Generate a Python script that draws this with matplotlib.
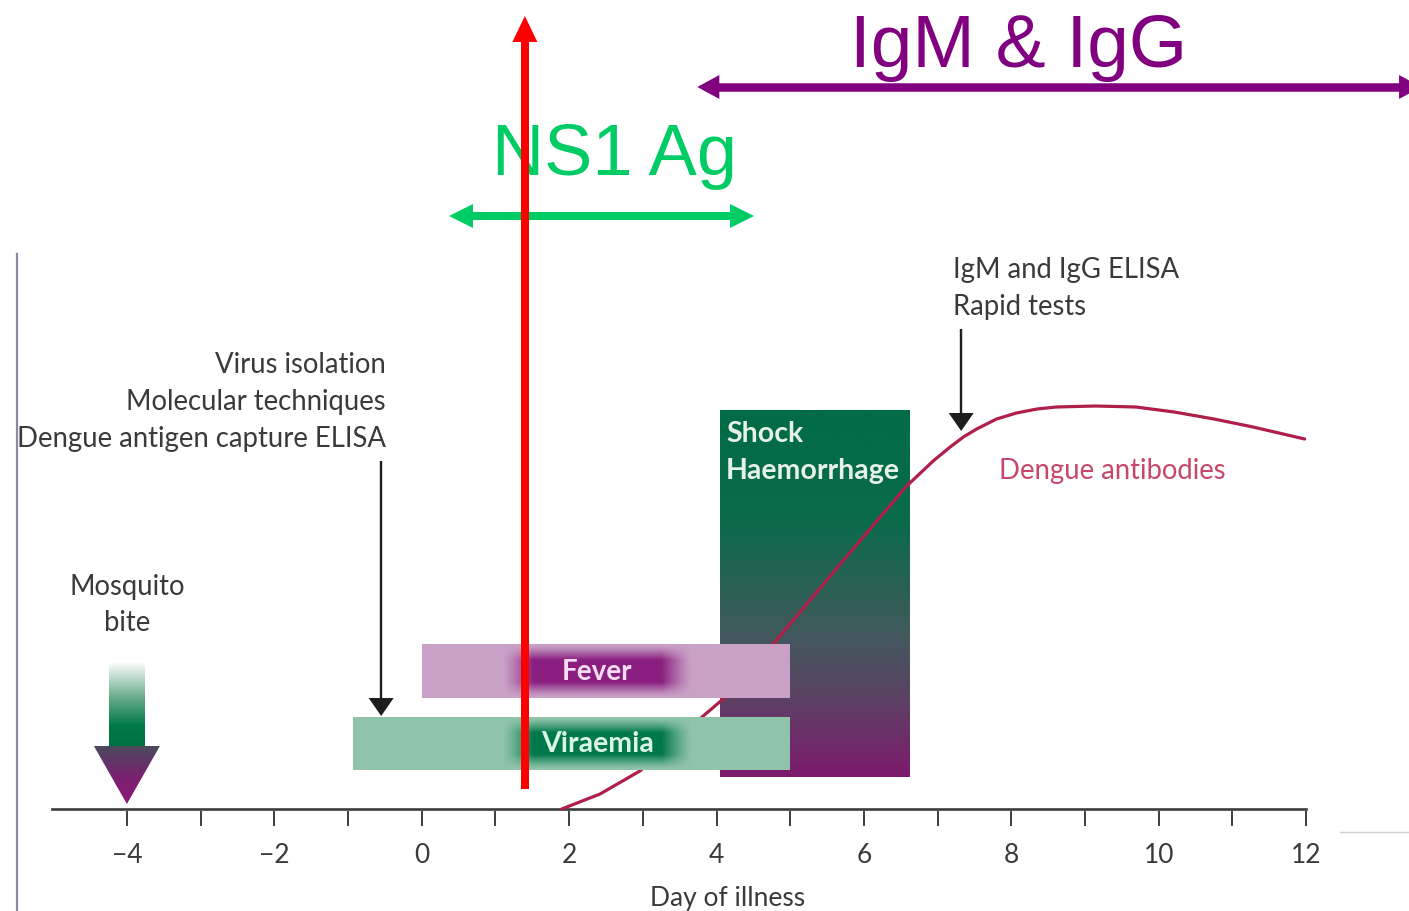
import numpy as np
import matplotlib
matplotlib.use("Agg")
import matplotlib.pyplot as plt
from matplotlib.colors import LinearSegmentedColormap, to_rgb
from matplotlib.patches import Polygon, Rectangle

# ---------------- data ----------------
tick_days = list(range(-4, 13))
label_days = [-4, -2, 0, 2, 4, 6, 8, 10, 12]
label_texts = ["\u22124", "\u22122", "0", "2", "4", "6", "8", "10", "12"]

antibody_day = [1.90, 2.42, 2.96, 3.82, 4.09, 4.77, 5.68, 6.58, 6.94, 7.17, 7.35,
                7.53, 7.80, 8.07, 8.35, 8.61, 9.14, 9.69, 10.21, 10.75, 11.28, 11.98]
antibody_level = [0, 15, 38, 93, 110, 165, 245, 323, 348, 362, 372,
                  380, 390, 396, 400, 402, 403, 402, 397, 390, 382, 370]

fever_span = (0.0, 5.0)
viraemia_span = (-0.93, 5.0)
fever_core = (1.10, 3.66)
viraemia_core = (1.10, 3.66)
shock_span = (4.05, 6.62)
mosquito_day = -4.0
virus_test_day = -0.55
antibody_test_day = 7.32
ns1_marker_day = 1.40
ns1_window = (0.37, 4.51)
igm_igg_window = (3.74, 13.56)

# ---------------- layout helpers ----------------
W, H = 1409, 912
PX_PER_DAY = 73.7
DAY0_PX = 421.7
AXIS_PY = 810


def lv(py):
    """pixel row -> vertical level (pixels above the day axis)"""
    return AXIS_PY - py


def dx(px):
    """pixel width -> days"""
    return px / PX_PER_DAY


fig = plt.figure(figsize=(W / 100, H / 100), dpi=100)
ax = fig.add_axes([0, 0, 1, 1])
ax.set_xlim(-DAY0_PX / PX_PER_DAY, (W - DAY0_PX) / PX_PER_DAY)
ax.set_ylim(lv(H), lv(0))
ax.axis("off")

FONT = ["Lato", "DejaVu Sans"]
BIG = ["Liberation Sans", "DejaVu Sans"]
TXT = "#3a3a3a"
FS = 19.8


def v_arrow(x, y0, y1, lw_px, hw_px, hl_px, color, z):
    s = np.sign(y1 - y0)
    ax.plot([x, x], [y0, y1 - s * hl_px * 0.8], color=color, lw=lw_px * 0.72,
            solid_capstyle="butt", zorder=z)
    ax.add_patch(Polygon([(x - dx(hw_px / 2), y1 - s * hl_px),
                          (x + dx(hw_px / 2), y1 - s * hl_px),
                          (x, y1)], closed=True, color=color, lw=0, zorder=z))


def h_double_arrow(y, x0, x1, lw_px, hw_px, hl_px, color, z):
    ax.plot([x0 + dx(hl_px * 0.8), x1 - dx(hl_px * 0.8)], [y, y], color=color,
            lw=lw_px * 0.72, solid_capstyle="butt", zorder=z)
    for tip, s in ((x0, 1), (x1, -1)):
        ax.add_patch(Polygon([(tip + s * dx(hl_px), y - hw_px / 2),
                              (tip + s * dx(hl_px), y + hw_px / 2),
                              (tip, y)], closed=True, color=color, lw=0, zorder=z))


# ---------------- frame lines ----------------
ax.plot([dx(17 - DAY0_PX)] * 2, [lv(255), lv(H)], color="#8a8aa6", lw=1.6, zorder=1)
ax.plot([dx(52 - DAY0_PX), tick_days[-1]], [0, 0], color="#3c3c3c", lw=1.9, zorder=1)
for d in tick_days:
    ax.plot([d, d], [-3, -16], color="#3c3c3c", lw=1.4, zorder=1)
for d, t in zip(label_days, label_texts):
    ax.text(d, lv(856), t, ha="center", va="center", fontsize=19,
            color=TXT, family=FONT)
ax.text(4.15, lv(886), "Day of illness", ha="center", va="top", fontsize=19,
        color=TXT, family=FONT)
ax.plot([dx(1340 - DAY0_PX), dx(W - DAY0_PX)], [lv(833)] * 2, color="#d0d0d0",
        lw=1.0, zorder=1)

# ---------------- shock / haemorrhage box ----------------
shock_cmap = LinearSegmentedColormap.from_list(
    "shock", [(0.0, "#006b47"), (0.3, "#0a6b4b"), (0.6, "#3f5a5c"),
              (0.78, "#5b4363"), (1.0, "#7e1a6e")])
grad = np.linspace(0, 1, 256).reshape(-1, 1)
ax.imshow(grad, cmap=shock_cmap, aspect="auto", origin="upper",
          extent=[shock_span[0], shock_span[1], lv(778), lv(411)], zorder=2,
          interpolation="bilinear")
ax.text(shock_span[0] + dx(6), lv(434), "Shock", ha="left", va="center",
        fontsize=20.5, fontweight="bold", color="#e6f2e8", family=FONT, zorder=3)
ax.text(shock_span[0] + dx(6), lv(471), "Haemorrhage", ha="left", va="center",
        fontsize=20.5, fontweight="bold", color="#e6f2e8", family=FONT, zorder=3)

# ---------------- antibody curve ----------------
ax.plot(antibody_day, antibody_level, color="#b01e4a", lw=2.3, zorder=3,
        solid_capstyle="round", solid_joinstyle="round")
ax.text(dx(999 - DAY0_PX), lv(471), "Dengue antibodies", ha="left",
        va="center", fontsize=FS, color="#c8466a", family=FONT)


# ---------------- fever / viraemia bars ----------------
def soft_bar(span, core, top_py, bot_py, light, dark, label, label_color, fs):
    ax.add_patch(Rectangle((span[0], lv(bot_py)), span[1] - span[0],
                           lv(top_py) - lv(bot_py), color=light, lw=0, zorder=4))
    nx, ny = 300, 60
    xs = np.linspace(0, 1, nx)
    ys = np.linspace(0, 1, ny)
    fx_w = dx(30) / (core[1] - core[0])
    ax_ = np.clip(np.minimum(xs, 1 - xs) / fx_w, 0, 1)
    ay_ = np.clip(np.minimum(ys, 1 - ys) / 0.28, 0, 1)
    a = np.outer(ay_ ** 1.2, ax_ ** 1.2)
    img = np.zeros((ny, nx, 4))
    img[..., :3] = to_rgb(dark)
    img[..., 3] = a
    ax.imshow(img, aspect="auto", origin="upper", interpolation="bilinear",
              extent=[core[0], core[1], lv(bot_py - 1), lv(top_py + 1)], zorder=5)
    ax.text((core[0] + core[1]) / 2, (lv(top_py) + lv(bot_py)) / 2, label,
            ha="center", va="center", fontsize=fs, fontweight="bold",
            color=label_color, family=FONT, zorder=6)


soft_bar(fever_span, fever_core, 645, 699, "#c9a1c6", "#8a1f80", "Fever",
         "#f6dcf2", 20)
soft_bar(viraemia_span, viraemia_core, 718, 771, "#8fc3aa", "#00794a",
         "Viraemia", "#daf5e7", 20.5)

# ---------------- mosquito bite arrow ----------------
shaft_cmap = LinearSegmentedColormap.from_list(
    "shaft", [(0.0, "#ffffff"), (0.4, "#6fae8e"), (0.75, "#007a48"), (1.0, "#00703f")])
ax.imshow(grad, cmap=shaft_cmap, aspect="auto", origin="upper",
          extent=[mosquito_day - dx(18), mosquito_day + dx(18), lv(748), lv(663)],
          zorder=2, interpolation="bilinear")
head_cmap = LinearSegmentedColormap.from_list(
    "head", [(0.0, "#4a4a5e"), (0.55, "#7a2070"), (1.0, "#8e1a78")])
im = ax.imshow(grad, cmap=head_cmap, aspect="auto", origin="upper",
               extent=[mosquito_day - dx(34), mosquito_day + dx(34), lv(805), lv(747)],
               zorder=2, interpolation="bilinear")
tri = Polygon([(mosquito_day - dx(33), lv(747)), (mosquito_day + dx(33), lv(747)),
               (mosquito_day, lv(805))], closed=True, transform=ax.transData,
              facecolor="none", lw=0)
ax.add_patch(tri)
im.set_clip_path(tri)
ax.text(mosquito_day, lv(587), "Mosquito", ha="center", va="center",
        fontsize=FS, color=TXT, family=FONT)
ax.text(mosquito_day, lv(623), "bite", ha="center", va="center",
        fontsize=FS, color=TXT, family=FONT)

# ---------------- test arrows and labels ----------------
v_arrow(virus_test_day, lv(462), lv(717), 2.4, 25, 18, "#1e1e1e", 3)
for py, t in ((365, "Virus isolation"), (402, "Molecular techniques"),
              (439, "Dengue antigen capture ELISA")):
    ax.text(dx(386 - DAY0_PX), lv(py), t, ha="right", va="center",
            fontsize=FS, color=TXT, family=FONT)

v_arrow(antibody_test_day, lv(330), lv(432), 2.4, 25, 18, "#1e1e1e", 3)
for py, t in ((270, "IgM and IgG ELISA"), (307, "Rapid tests")):
    ax.text(dx(953 - DAY0_PX), lv(py), t, ha="left", va="center",
            fontsize=FS, color=TXT, family=FONT)

# ---------------- overlay annotations ----------------
v_arrow(ns1_marker_day, lv(790), lv(17), 8, 25, 26, "#ff0000", 12)
h_double_arrow(lv(217), ns1_window[0], ns1_window[1], 8, 24, 24, "#00cc66", 11)
ax.text(dx(614 - DAY0_PX), lv(157), "NS1 Ag", ha="center", va="center",
        fontsize=52, color="#00cc66", family=BIG, zorder=11)
h_double_arrow(lv(88), igm_igg_window[0], igm_igg_window[1], 8.5, 24, 22,
               "#800080", 11)
ax.text(dx(1019 - DAY0_PX), lv(47), "IgM & IgG", ha="center", va="center",
        fontsize=54, color="#800080", family=BIG, zorder=11)

fig.savefig("out.png", dpi=100)
